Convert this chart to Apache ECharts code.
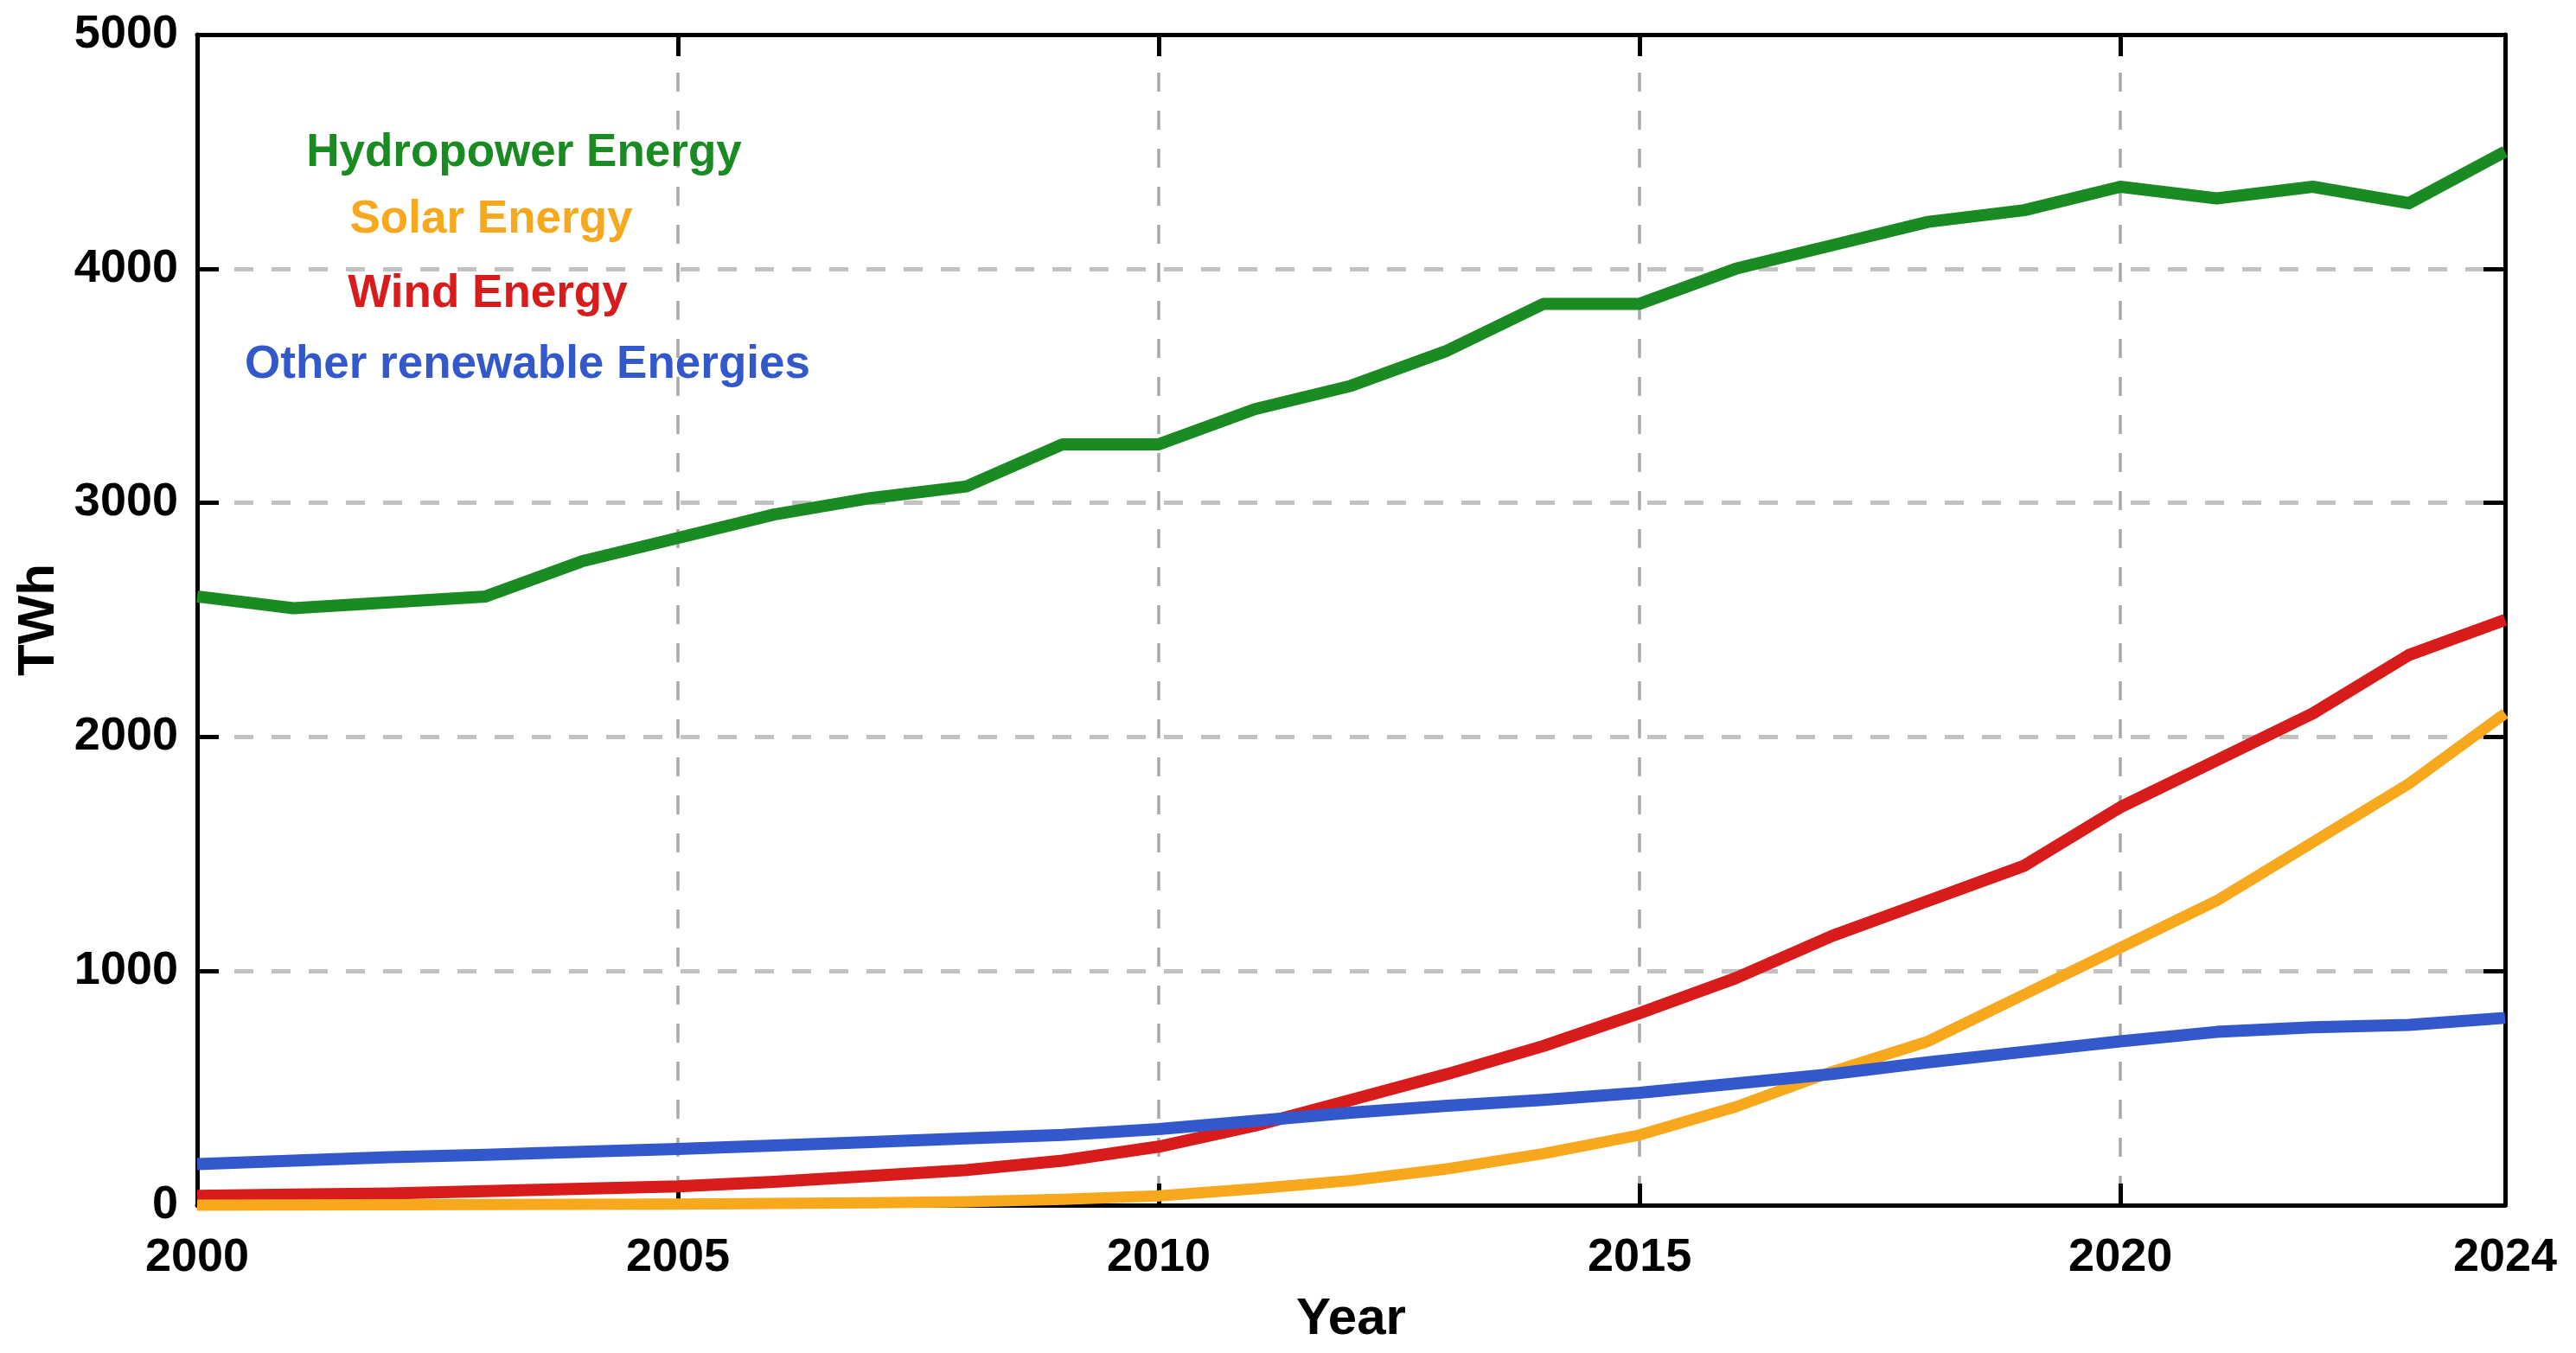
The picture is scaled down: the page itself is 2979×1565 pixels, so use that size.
<!DOCTYPE html>
<html>
<head>
<meta charset="utf-8">
<script src="https://cdn.jsdelivr.net/npm/echarts@6/dist/echarts.min.js"></script>
<style>
  html, body { margin: 0; padding: 0; background: #ffffff; }
  #chart { width: 2979px; height: 1565px; }
</style>
</head>
<body>
<div id="chart"></div>
<script>
const years = ['2000','2001','2002','2003','2004','2005','2006','2007','2008','2009','2010','2011','2012',
               '2013','2014','2015','2016','2017','2018','2019','2020','2021','2022','2023','2024'];
const hydro = [2600,2550,2575,2600,2750,2850,2950,3020,3070,3250,3250,3400,3500,3650,3850,3850,4000,4100,4200,4250,4350,4300,4350,4280,4500];
const solar = [0,1,2,3,4,5,7,10,15,25,40,70,105,155,220,300,420,570,700,900,1100,1300,1550,1800,2100];
const wind  = [40,45,50,60,70,80,100,125,150,190,250,340,450,560,680,820,970,1150,1300,1450,1700,1900,2100,2350,2500];
const other = [175,190,205,215,228,240,255,270,285,300,325,360,395,425,450,480,520,560,610,655,700,740,760,770,800];
const seriesNames = ['Hydropower Energy','Solar Energy','Wind Energy','Other renewable Energies'];
const seriesColors = ['#1a8a22','#f7a81c','#d81b1b','#3358cc'];
const xLabelIdx = [0,5,10,15,20,24];
const yTicks = { min: 0, max: 5000, interval: 1000 };

const FONT = "'Liberation Sans', Arial, Helvetica, sans-serif";
const chart = echarts.init(document.getElementById('chart'), null, { renderer: 'canvas' });

const tickStyle = { show: true, inside: true, length: 25, lineStyle: { color: '#000', width: 5 } };
const axisLineStyle = { show: true, onZero: false, lineStyle: { color: '#000', width: 5 } };
const isMajor = (i) => i % 5 === 0 && i !== 0;

const option = {
  animation: false,
  backgroundColor: '#ffffff',
  grid: { left: 228, right: 82, top: 40, bottom: 171, containLabel: false },
  xAxis: [
    {
      type: 'category', data: years, boundaryGap: false, position: 'bottom',
      axisLine: axisLineStyle,
      axisTick: Object.assign({}, tickStyle, { interval: (i) => isMajor(i) }),
      axisLabel: {
        interval: (i) => xLabelIdx.indexOf(i) >= 0,
        margin: 34, color: '#000', fontSize: 54, fontWeight: 'bold', fontFamily: FONT
      },
      splitLine: { show: true, interval: (i) => isMajor(i), lineStyle: { color: '#a9a9a9', width: 3.5, type: [22, 22] } },
      name: 'Year', nameLocation: 'middle', nameGap: 102,
      nameTextStyle: { color: '#000', fontSize: 60, fontWeight: 'bold', fontFamily: FONT }
    },
    {
      type: 'category', data: years, boundaryGap: false, position: 'top',
      axisLine: axisLineStyle,
      axisTick: Object.assign({}, tickStyle, { interval: (i) => isMajor(i) }),
      axisLabel: { show: false }, splitLine: { show: false }
    }
  ],
  yAxis: [
    {
      type: 'value', min: yTicks.min, max: yTicks.max, interval: yTicks.interval, position: 'left',
      axisLine: axisLineStyle, axisTick: tickStyle,
      axisLabel: { margin: 22, color: '#000', fontSize: 54, fontWeight: 'bold', fontFamily: FONT,
                   formatter: (v) => String(v) },
      splitLine: { show: true, lineStyle: { color: '#c2c2c2', width: 5, type: [22, 21] } },
      name: 'TWh', nameLocation: 'middle', nameGap: 145, nameRotate: 90,
      nameTextStyle: { color: '#000', fontSize: 60, fontWeight: 'bold', fontFamily: FONT }
    },
    {
      type: 'value', min: yTicks.min, max: yTicks.max, interval: yTicks.interval, position: 'right',
      axisLine: axisLineStyle, axisTick: tickStyle,
      axisLabel: { show: false }, splitLine: { show: false }
    }
  ],
  series: [
    { name: seriesNames[2], type: 'line', data: wind, xAxisIndex: 0, yAxisIndex: 0, showSymbol: false, symbol: 'none', clip: false, z: 3,
      lineStyle: { color: seriesColors[2], width: 14, join: 'round' } },
    { name: seriesNames[1], type: 'line', data: solar, xAxisIndex: 0, yAxisIndex: 0, showSymbol: false, symbol: 'none', clip: false, z: 4,
      lineStyle: { color: seriesColors[1], width: 13, join: 'round' } },
    { name: seriesNames[3], type: 'line', data: other, xAxisIndex: 0, yAxisIndex: 0, showSymbol: false, symbol: 'none', clip: false, z: 5,
      lineStyle: { color: seriesColors[3], width: 14, join: 'round' } },
    { name: seriesNames[0], type: 'line', data: hydro, xAxisIndex: 0, yAxisIndex: 0, showSymbol: false, symbol: 'none', clip: false, z: 6,
      lineStyle: { color: seriesColors[0], width: 14, join: 'round' } }
  ],
  graphic: [
    { type: 'text', x: 606, y: 177, z: 10,
      style: { text: seriesNames[0], fill: seriesColors[0], font: "bold 53px " + FONT, align: 'center', verticalAlign: 'middle' } },
    { type: 'text', x: 568, y: 254, z: 10,
      style: { text: seriesNames[1], fill: seriesColors[1], font: "bold 53px " + FONT, align: 'center', verticalAlign: 'middle' } },
    { type: 'text', x: 564, y: 340, z: 10,
      style: { text: seriesNames[2], fill: seriesColors[2], font: "bold 53px " + FONT, align: 'center', verticalAlign: 'middle' } },
    { type: 'text', x: 610, y: 422, z: 10,
      style: { text: seriesNames[3], fill: seriesColors[3], font: "bold 53px " + FONT, align: 'center', verticalAlign: 'middle' } }
  ]
};
chart.setOption(option);
</script>
</body>
</html>
